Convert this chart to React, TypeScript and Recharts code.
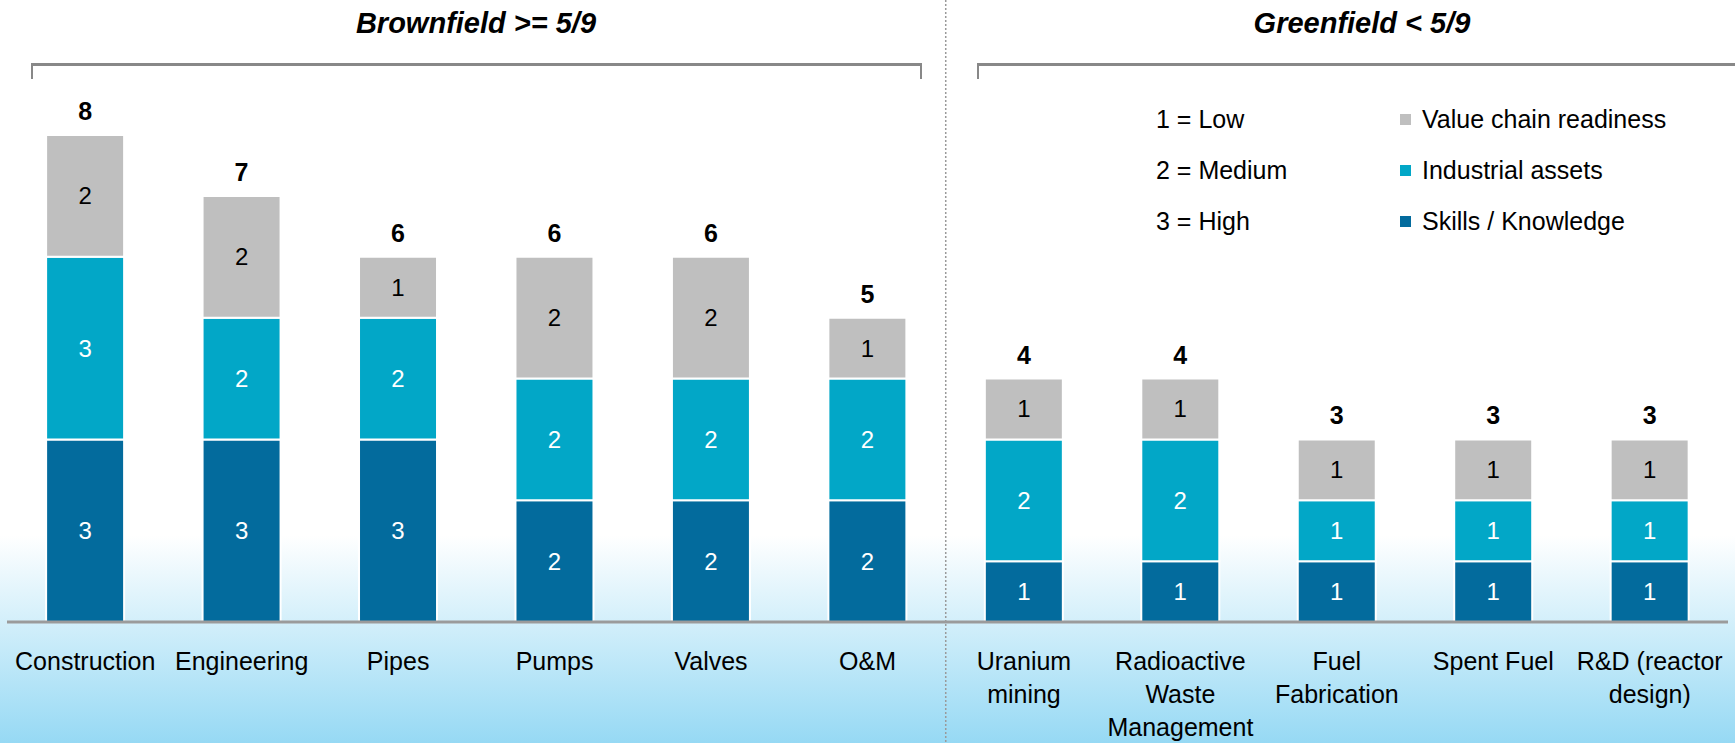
import {
  BarChart,
  Bar,
  XAxis,
  YAxis,
  LabelList,
  Legend,
  ReferenceLine,
} from "recharts";

const FONT = '"Liberation Sans", Arial, Helvetica, sans-serif';

const categories = [
  "Construction",
  "Engineering",
  "Pipes",
  "Pumps",
  "Valves",
  "O&M",
  "Uranium\nmining",
  "Radioactive\nWaste\nManagement",
  "Fuel\nFabrication",
  "Spent Fuel",
  "R&D (reactor\ndesign)",
];

const skills = [3, 3, 3, 2, 2, 2, 1, 1, 1, 1, 1];
const assets = [3, 2, 2, 2, 2, 2, 2, 2, 1, 1, 1];
const readiness = [2, 2, 1, 2, 2, 1, 1, 1, 1, 1, 1];

const scaleLegend = ["1 = Low", "2 = Medium", "3 = High"];

const SERIES = [
  { key: "skills", name: "Skills / Knowledge", color: "#036B9D", text: "#fff" },
  { key: "assets", name: "Industrial assets", color: "#02A7C7", text: "#fff" },
  { key: "readiness", name: "Value chain readiness", color: "#BFBFBF", text: "#000" },
];

const data = categories.map((name, i) => ({
  name,
  skills: skills[i],
  assets: assets[i],
  readiness: readiness[i],
  total: skills[i] + assets[i] + readiness[i],
}));

const W = 1735;
const H = 743;

function CategoryTick(props: any) {
  const { x, y, payload } = props;
  const lines = String(payload.value).split("\n");
  return (
    <text x={x} y={y} textAnchor="middle" fontSize={25} fill="#000" fontFamily={FONT}>
      {lines.map((l, i) => (
        <tspan key={i} x={x} dy={i === 0 ? 48 : 33}>
          {l}
        </tspan>
      ))}
    </text>
  );
}

function LegendBox(props: any) {
  const items = props.payload || [];
  // top-to-bottom: last stacked series first
  const ordered = [...SERIES]
    .reverse()
    .map((s) => items.find((p: any) => p.value === s.name || p.dataKey === s.key))
    .filter(Boolean);
  return (
    <div style={{ display: "flex", fontFamily: FONT, fontSize: 25, color: "#000" }}>
      <div style={{ width: 244 }}>
        {scaleLegend.map((t) => (
          <div key={t} style={{ height: 51, lineHeight: "51px" }}>
            {t}
          </div>
        ))}
      </div>
      <div>
        {ordered.map((p: any) => (
          <div key={p.value} style={{ height: 51, lineHeight: "51px", display: "flex", alignItems: "center" }}>
            <span style={{ width: 11, height: 11, background: p.color, marginRight: 11, display: "inline-block" }} />
            {p.value}
          </div>
        ))}
      </div>
    </div>
  );
}

function Divider(props: any) {
  return (
    <line
      x1={props.x1}
      x2={props.x2}
      y1={0}
      y2={H}
      stroke="#9a9a9a"
      strokeWidth={1.5}
      strokeDasharray="2 2"
    />
  );
}

export default function App() {
  return (
    <div
      style={{
        position: "absolute",
        left: 0,
        top: 0,
        width: W,
        height: H,
        overflow: "hidden",
        fontFamily: FONT,
        background: "linear-gradient(to bottom, #ffffff 0px, #ffffff 535px, #96D9F4 743px)",
      }}
    >
      {/* group titles */}
      <div style={{ position: "absolute", left: 276, width: 400, top: 7, textAlign: "center", fontSize: 29, fontWeight: "bold", fontStyle: "italic" }}>
        Brownfield &gt;= 5/9
      </div>
      <div style={{ position: "absolute", left: 1162, width: 400, top: 7, textAlign: "center", fontSize: 29, fontWeight: "bold", fontStyle: "italic" }}>
        Greenfield &lt; 5/9
      </div>
      {/* brackets */}
      <div style={{ position: "absolute", left: 31, top: 63, width: 887, height: 13, borderTop: "3px solid #888", borderLeft: "2px solid #888", borderRight: "2px solid #888" }} />
      <div style={{ position: "absolute", left: 977, top: 63, width: 800, height: 13, borderTop: "3px solid #888", borderLeft: "2px solid #888" }} />

      <BarChart
        width={W}
        height={H}
        data={data}
        margin={{ top: 135, right: 7, bottom: 0, left: 7 }}
        barCategoryGap="25%"
        style={{ position: "absolute", left: 0, top: 0 }}
      >
        <XAxis
          dataKey="name"
          height={121}
          interval={0}
          tickLine={false}
          tickSize={0}
          tickMargin={0}
          axisLine={{ stroke: "#9b9b9b", strokeWidth: 3 }}
          tick={<CategoryTick />}
        />
        <YAxis hide domain={[0, 8]} />
        <ReferenceLine x="O&M" position="end" shape={<Divider />} />
        <Legend
          layout="vertical"
          align="center"
          verticalAlign="middle"
          wrapperStyle={{ left: 1156, top: 94, width: 570 }}
          content={<LegendBox />}
        />
        {SERIES.map((s, idx) => (
          <Bar
            key={s.key}
            dataKey={s.key}
            name={s.name}
            stackId="a"
            fill={s.color}
            stroke="#fff"
            strokeWidth={2}
            isAnimationActive={false}
          >
            <LabelList dataKey={s.key} position="center" fill={s.text} fontSize={24} fontFamily={FONT} />
            {idx === SERIES.length - 1 && (
              <LabelList
                dataKey="total"
                position="top"
                offset={15}
                fill="#000"
                fontSize={25}
                fontWeight="bold"
                fontFamily={FONT}
              />
            )}
          </Bar>
        ))}
      </BarChart>
    </div>
  );
}
